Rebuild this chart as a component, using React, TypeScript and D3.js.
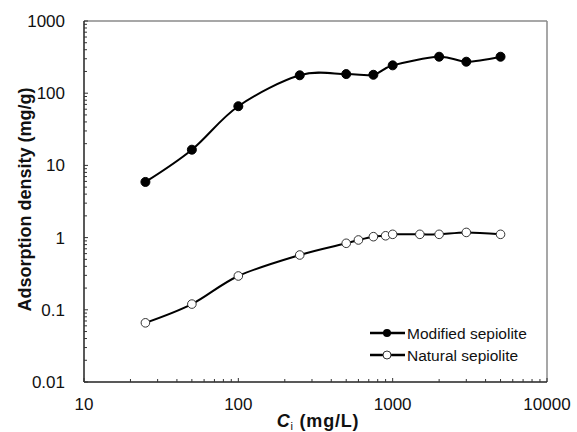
import React from "react";
import * as d3 from "d3";

const concModified = [25, 50, 100, 250, 500, 750, 1000, 2000, 3000, 5000];
const modifiedValues = [5.9, 16.5, 66, 177, 184, 180, 243, 320, 273, 320];
const concNatural = [25, 50, 100, 250, 500, 600, 750, 900, 1000, 1500, 2000, 3000, 5000];
const naturalValues = [0.066, 0.12, 0.294, 0.574, 0.834, 0.927, 1.03, 1.06, 1.11, 1.11, 1.11, 1.18, 1.11];
const xTicks = [10, 100, 1000, 10000];
const yTicks = [0.01, 0.1, 1, 10, 100, 1000];
const seriesNames = ["Modified sepiolite", "Natural sepiolite"];

const W = 577, H = 432;
const L = 84, R = 547, T = 21, B = 382;

export default function App() {
  const x = d3.scaleLog().domain([10, 10000]).range([L, R]);
  const y = d3.scaleLog().domain([0.01, 1000]).range([B, T]);
  const line = d3
    .line<[number, number]>()
    .x((d) => x(d[0]))
    .y((d) => y(d[1]))
    .curve(d3.curveCardinal.tension(0));

  const modData: [number, number][] = concModified.map((c, i) => [c, modifiedValues[i]]);
  const natData: [number, number][] = concNatural.map((c, i) => [c, naturalValues[i]]);

  const xMinor: number[] = [];
  for (let d = 10; d < 10000; d *= 10) for (let k = 2; k <= 9; k++) xMinor.push(d * k);
  const yMinor: number[] = [];
  for (let d = 0.01; d < 999; d *= 10) for (let k = 2; k <= 9; k++) yMinor.push(d * k);

  const font = "'Liberation Sans', Arial, sans-serif";

  return (
    <svg width={W} height={H} style={{ position: "absolute", left: 0, top: 0, background: "#fff" }}>
      <rect x={0} y={0} width={W} height={H} fill="#fff" />
      {/* frame */}
      <line x1={L} y1={T} x2={R} y2={T} stroke="#8a8a8a" strokeWidth={1.5} />
      <line x1={R} y1={T} x2={R} y2={B} stroke="#8a8a8a" strokeWidth={1.5} />
      <line x1={L} y1={T} x2={L} y2={B} stroke="#222" strokeWidth={1.5} />
      <line x1={L} y1={B} x2={R} y2={B} stroke="#222" strokeWidth={1.5} />
      {/* ticks */}
      {xMinor.map((v, i) => (
        <line key={"xm" + i} x1={x(v)} x2={x(v)} y1={B} y2={B - 3} stroke="#333" strokeWidth={1} />
      ))}
      {xTicks.map((v, i) => (
        <line key={"xM" + i} x1={x(v)} x2={x(v)} y1={B} y2={B - 4} stroke="#333" strokeWidth={1} />
      ))}
      {yMinor.map((v, i) => (
        <line key={"ym" + i} x1={L} x2={L + 3} y1={y(v)} y2={y(v)} stroke="#333" strokeWidth={1} />
      ))}
      {yTicks.map((v, i) => (
        <line key={"yM" + i} x1={L} x2={L + 4} y1={y(v)} y2={y(v)} stroke="#333" strokeWidth={1} />
      ))}
      {/* tick labels */}
      {xTicks.map((v, i) => (
        <text key={"xl" + i} x={x(v)} y={410} textAnchor="middle" fontFamily={font} fontSize={17} fill="#111">
          {String(v)}
        </text>
      ))}
      {yTicks.map((v, i) => (
        <text key={"yl" + i} x={65} y={y(v) + 6} textAnchor="end" fontFamily={font} fontSize={17} fill="#111">
          {String(v)}
        </text>
      ))}
      {/* axis titles */}
      <text
        transform={`translate(31,${(T + B) / 2 - 2}) rotate(-90)`}
        textAnchor="middle"
        fontFamily={font}
        fontSize={18}
        fontWeight="bold"
        fill="#111"
      >
        Adsorption density (mg/g)
      </text>
      <text x={318} y={427} textAnchor="middle" fontFamily={font} fontSize={18} fontWeight="bold" fill="#111" letterSpacing={0.8}>
        <tspan fontStyle="italic">C</tspan>
        <tspan fontSize={11} fontWeight="normal" dy={3}>i</tspan>
        <tspan dy={-3}> (mg/L)</tspan>
      </text>
      {/* lines */}
      <path d={line(modData) || ""} fill="none" stroke="#000" strokeWidth={2} />
      <path d={line(natData) || ""} fill="none" stroke="#000" strokeWidth={2} />
      {modData.map((d, i) => (
        <circle key={"mp" + i} cx={x(d[0])} cy={y(d[1])} r={4.5} fill="#000" stroke="#000" strokeWidth={1} />
      ))}
      {natData.map((d, i) => (
        <circle key={"np" + i} cx={x(d[0])} cy={y(d[1])} r={4.3} fill="#fff" stroke="#333" strokeWidth={1} />
      ))}
      {/* legend */}
      <g>
        <line x1={370} x2={405} y1={333} y2={333} stroke="#000" strokeWidth={2.5} />
        <circle cx={387} cy={333} r={4} fill="#000" />
        <text x={407} y={338.5} fontFamily={font} fontSize={15.5} fill="#111">{seriesNames[0]}</text>
        <line x1={370} x2={405} y1={355} y2={355} stroke="#000" strokeWidth={2.5} />
        <circle cx={387} cy={355} r={4} fill="#fff" stroke="#333" strokeWidth={1} />
        <text x={407} y={360.5} fontFamily={font} fontSize={15.5} fill="#111">{seriesNames[1]}</text>
      </g>
    </svg>
  );
}
